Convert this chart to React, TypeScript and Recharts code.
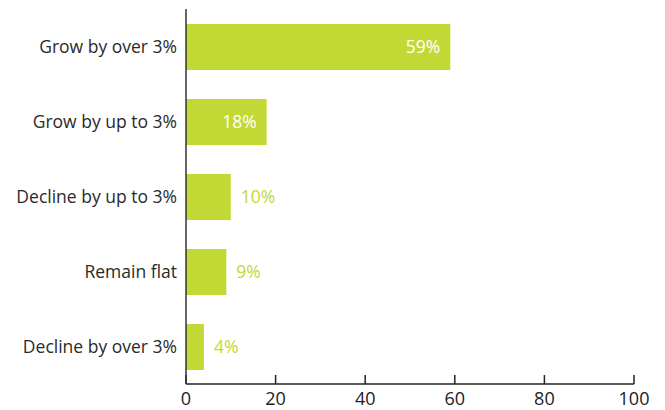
import { BarChart, Bar, XAxis, YAxis, LabelList } from "recharts";

const categories = [
  "Grow by over 3%",
  "Grow by up to 3%",
  "Decline by up to 3%",
  "Remain flat",
  "Decline by over 3%",
];
const shares = [59, 18, 10, 9, 4];
const xTicks = [0, 20, 40, 60, 80, 100];

const data = categories.map((name, i) => ({ name, value: shares[i] }));

const GREEN = "#c2d834";
const FONT = "'Open Sans', 'Noto Sans', sans-serif";

// big bars get the label inside (white), small ones outside (green)
const renderLabel = (props: any) => {
  const { x, y, width, height, value } = props;
  const inside = value > 15;
  return (
    <text
      x={inside ? x + width - 10 : x + width + 10}
      y={y + height / 2}
      dy="0.35em"
      textAnchor={inside ? "end" : "start"}
      fill={inside ? "#ffffff" : GREEN}
      fontSize={17.5}
      fontFamily={FONT}
    >
      {value}%
    </text>
  );
};

export default function App() {
  return (
    <div style={{ position: "absolute", left: 0, top: 0, background: "#fff" }}>
      <BarChart
        width={665}
        height={410}
        data={data}
        layout="vertical"
        margin={{ top: 9, right: 31, bottom: 0, left: 0 }}
      >
        <XAxis
          type="number"
          domain={[0, 100]}
          ticks={xTicks}
          height={26}
          tickSize={-9}
          tickMargin={17}
          stroke="#222"
          tick={{ fill: "#222", fontSize: 18, fontFamily: FONT }}
          axisLine={{ stroke: "#222", strokeWidth: 1.5 }}
          tickLine={{ stroke: "#222", strokeWidth: 1.5 }}
        />
        <YAxis
          type="category"
          dataKey="name"
          width={186}
          tickLine={false}
          tickMargin={3}
          axisLine={{ stroke: "#333", strokeWidth: 1.5 }}
          tick={{ fill: "#2a2a2a", fontSize: 17.5, fontFamily: FONT }}
        />
        <Bar dataKey="value" fill={GREEN} barSize={46} isAnimationActive={false}>
          <LabelList dataKey="value" content={renderLabel} />
        </Bar>
      </BarChart>
    </div>
  );
}
